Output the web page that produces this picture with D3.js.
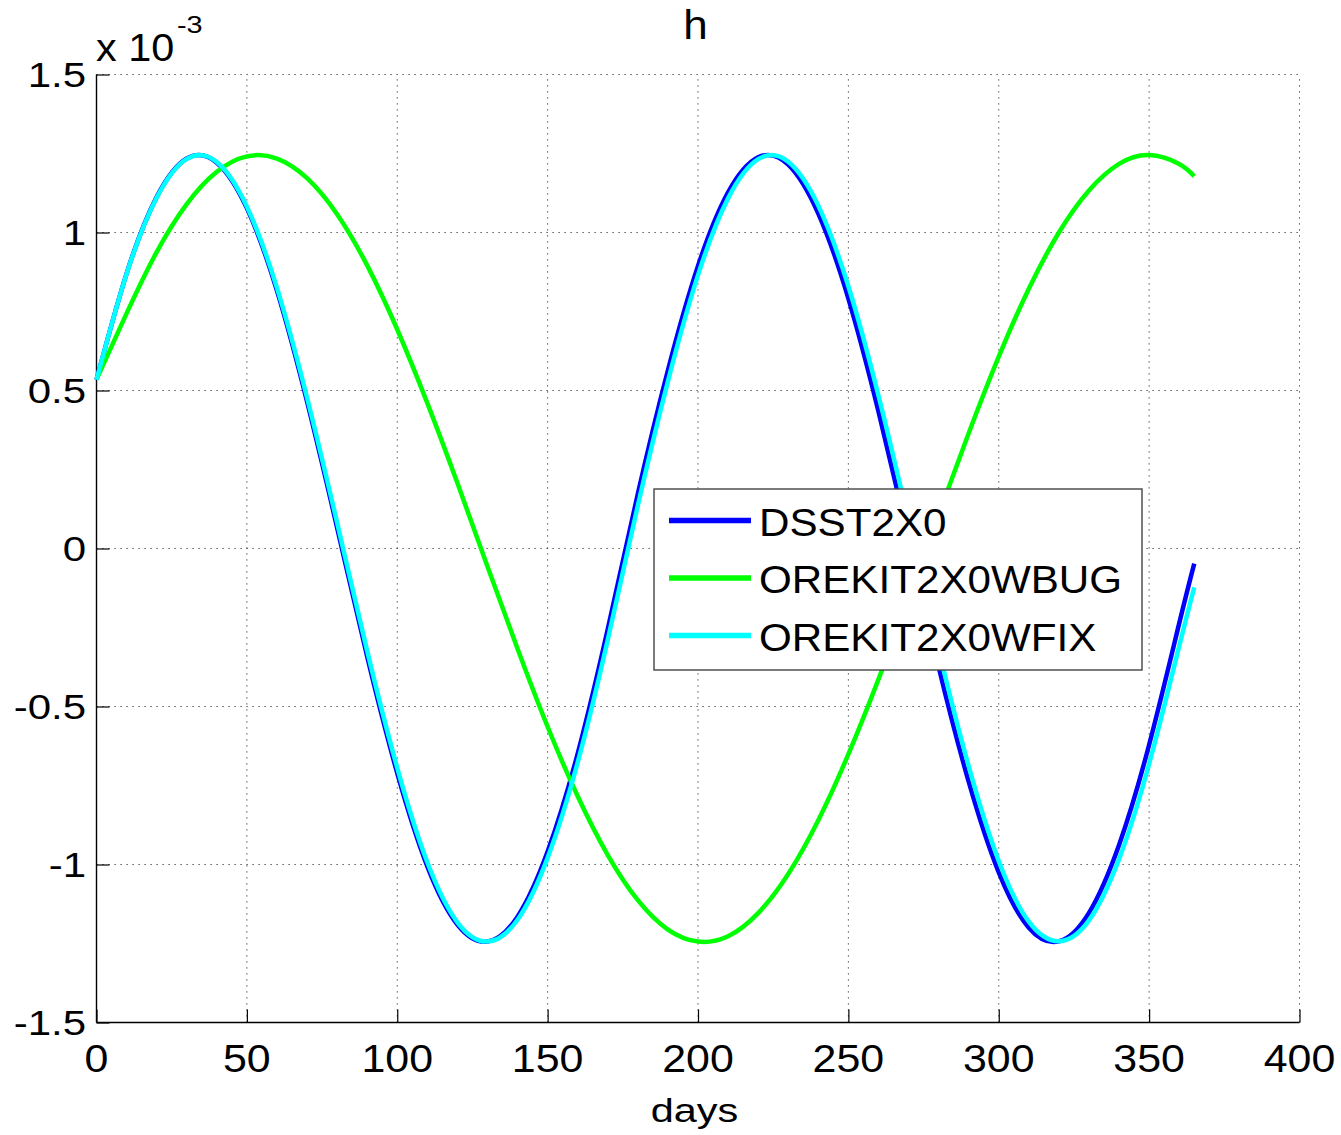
<!DOCTYPE html>
<html>
<head>
<meta charset="utf-8">
<script src="https://cdn.jsdelivr.net/npm/d3@7"></script>
<style>
  html, body { margin: 0; padding: 0; background: #fff; }
  svg { display: block; }
</style>
</head>
<body>
<svg id="chart" width="1341" height="1135"></svg>
<script>
// Sample days and h values (units of 1e-3)
const days = [0, 10, 20, 30, 40, 50, 60, 70, 80, 90, 100, 110, 120, 130, 140, 150, 160, 170, 180,
              190, 200, 210, 220, 230, 240, 250, 260, 270, 280, 290, 300, 310, 320, 330, 340, 350, 360, 365];

const dsst2x0 = [0.534, 0.870, 1.112, 1.234, 1.221, 1.077, 0.816, 0.465, 0.066, -0.342, -0.711, -1.006,
                 -1.190, -1.244, -1.165, -0.959, -0.649, -0.255, 0.173, 0.564, 0.894, 1.127, 1.238, 1.215,
                 1.060, 0.791, 0.434, 0.033, -0.374, -0.738, -1.025, -1.200, -1.243, -1.153, -0.938, -0.621,
                 -0.237, -0.048];

const orekit2x0wbug = [0.535, 0.744, 0.938, 1.090, 1.192, 1.241, 1.234, 1.172, 1.058, 0.896, 0.693, 0.460,
                       0.207, -0.057, -0.317, -0.564, -0.784, -0.970, -1.113, -1.206, -1.244, -1.227, -1.154,
                       -1.030, -0.860, -0.651, -0.414, -0.158, 0.107, 0.365, 0.607, 0.822, 1.000, 1.133, 1.217,
                       1.245, 1.217, 1.178];

const orekit2x0wfix = [0.534, 0.869, 1.110, 1.233, 1.223, 1.082, 0.825, 0.478, 0.082, -0.324, -0.694, -0.993,
                       -1.183, -1.244, -1.175, -0.979, -0.677, -0.289, 0.136, 0.529, 0.865, 1.108, 1.232, 1.224,
                       1.085, 0.830, 0.484, 0.088, -0.319, -0.689, -0.989, -1.181, -1.243, -1.177, -0.983, -0.682,
                       -0.309, -0.123];

const seriesNames = ["DSST2X0", "OREKIT2X0WBUG", "OREKIT2X0WFIX"];
const seriesValues = [dsst2x0, orekit2x0wbug, orekit2x0wfix];
const seriesColors = ["#0000ff", "#00ff00", "#00ffff"];

const xTicks = [0, 50, 100, 150, 200, 250, 300, 350, 400];
const xTickLabels = ["0", "50", "100", "150", "200", "250", "300", "350", "400"];
const yTicks = [-1.5, -1, -0.5, 0, 0.5, 1, 1.5];
const yTickLabels = ["-1.5", "-1", "-0.5", "0", "0.5", "1", "1.5"];

const titleText = "h";
const xLabelText = "days";

// Layout
const plot = { left: 96.5, right: 1299.5, top: 74.5, bottom: 1022.5 };
const FONT = "'Liberation Sans', Arial, Helvetica, sans-serif";

const svg = d3.select("#chart");
svg.append("rect").attr("width", 1341).attr("height", 1135).attr("fill", "#fff");

const x = d3.scaleLinear().domain([0, 400]).range([plot.left, plot.right]);
const y = d3.scaleLinear().domain([-1.5, 1.5]).range([plot.bottom, plot.top]);

// Text helper: horizontally widened glyphs, like the figure's font
function label(parent, px, py, txt, size, sx, anchor) {
  const g = parent.append("g").attr("transform", `translate(${px},${py}) scale(${sx},1)`);
  return g.append("text")
    .attr("x", 0).attr("y", 0)
    .attr("text-anchor", anchor || "start")
    .attr("font-family", FONT)
    .attr("font-size", size)
    .attr("fill", "#000")
    .text(txt);
}

// Dotted grid
const grid = svg.append("g").attr("stroke", "#333").attr("stroke-width", 1)
  .attr("stroke-dasharray", "1.2,4.8");
grid.selectAll("line.vx").data(xTicks.filter(d => d > 0)).join("line")
  .attr("x1", d => x(d)).attr("x2", d => x(d))
  .attr("y1", plot.bottom).attr("y2", plot.top);
grid.selectAll("line.hy").data(yTicks.filter(d => d > -1.5)).join("line")
  .attr("x1", plot.left).attr("x2", plot.right)
  .attr("y1", d => y(d)).attr("y2", d => y(d));

// Axes (ticks point inward)
const xAxis = d3.axisBottom(x).tickValues(xTicks).tickSize(-13).tickFormat("");
const yAxis = d3.axisLeft(y).tickValues(yTicks).tickSize(-13).tickFormat("");

const gx = svg.append("g").attr("transform", `translate(0,${plot.bottom})`).call(xAxis);
const gy = svg.append("g").attr("transform", `translate(${plot.left},0)`).call(yAxis);
[gx, gy].forEach(g => {
  g.select(".domain").attr("stroke", "#000").attr("stroke-width", 1.4);
  g.selectAll(".tick line").attr("stroke", "#000").attr("stroke-width", 1.2);
});
// Remove the outer caps of the domain paths
gx.select(".domain").attr("d", `M${plot.left},0H${plot.right}`);
gy.select(".domain").attr("d", `M0,${plot.top}V${plot.bottom}`);

// Tick labels
xTicks.forEach((t, i) => label(svg, x(t), 1072, xTickLabels[i], 39, 1.1, "middle"));
yTicks.forEach((t, i) => label(svg, 86, y(t) + 12.5, yTickLabels[i], 35, 1.2, "end"));

// Exponent marker
label(svg, 96, 60.5, "x 10", 38, 1.09, "start");
label(svg, 177, 32.5, "-3", 24, 1.2, "start");

// Title and axis label
label(svg, 695.5, 39, titleText, 40, 1.1, "middle");
label(svg, 694.5, 1121.5, xLabelText, 34, 1.22, "middle");

// Curves
const line = d3.line()
  .x((d, i) => x(days[i]))
  .y(d => y(d))
  .curve(d3.curveNatural);

svg.append("g").selectAll("path").data(seriesValues).join("path")
  .attr("d", d => line(d))
  .attr("fill", "none")
  .attr("stroke", (d, i) => seriesColors[i])
  .attr("stroke-width", 4.5)
  .attr("stroke-linejoin", "round");

// Legend
const lg = { x: 654, y: 489, w: 488, h: 181 };
const legend = svg.append("g");
legend.append("rect")
  .attr("x", lg.x).attr("y", lg.y).attr("width", lg.w).attr("height", lg.h)
  .attr("fill", "#fff").attr("stroke", "#444").attr("stroke-width", 1.4);
seriesNames.forEach((name, i) => {
  const ry = lg.y + 31.5 + i * 57.5;
  legend.append("line")
    .attr("x1", lg.x + 15).attr("x2", lg.x + 97)
    .attr("y1", ry).attr("y2", ry)
    .attr("stroke", seriesColors[i]).attr("stroke-width", 5.5);
  label(legend, lg.x + 105, ry + 15, name, 38, 1.11, "start");
});
</script>
</body>
</html>
